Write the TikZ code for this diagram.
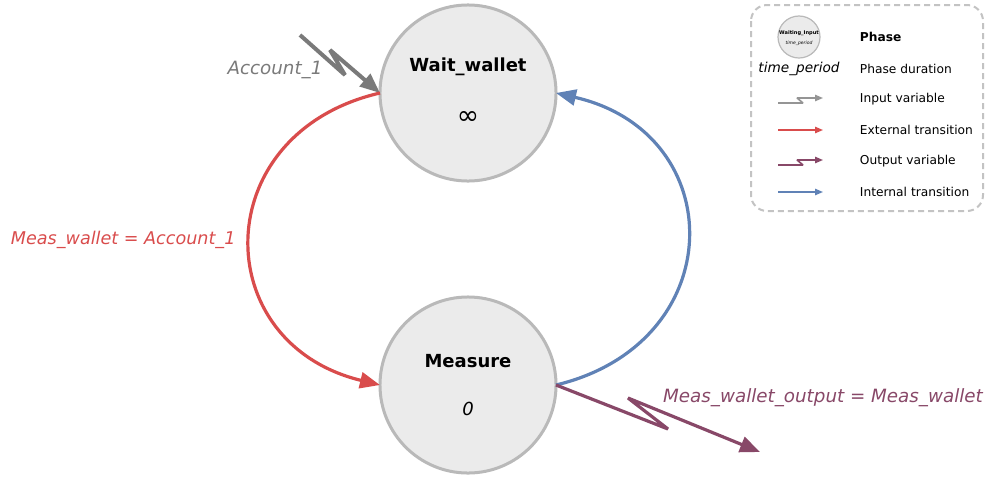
\documentclass[tikz,border=0pt]{standalone}
\usepackage{fontspec}
\setmainfont{DejaVu Sans}
\usetikzlibrary{arrows.meta,positioning}

\definecolor{phasefill}{RGB}{235,235,235}
\definecolor{phaseline}{RGB}{185,185,185}
\definecolor{inputgray}{RGB}{122,122,122}
\definecolor{extred}{RGB}{217,76,76}
\definecolor{intblue}{RGB}{96,130,182}
\definecolor{outpurple}{RGB}{136,72,104}
\definecolor{legendline}{RGB}{195,195,195}

\begin{document}
\begin{tikzpicture}[x=0.025cm,y=-0.025cm,
  phase/.style={circle,draw=phaseline,fill=phasefill,line width=0.075cm,
                minimum size=4.4cm,inner sep=0pt,outer sep=0pt},
  phasename/.style={font=\fontsize{12.8}{15}\selectfont\bfseries},
  duration/.style={font=\fontsize{12.8}{15}\selectfont},
  varlabel/.style={font=\fontsize{13}{15}\selectfont\itshape},
  conn/.style={line width=0.08cm,line join=bevel,
               -{Triangle[length=0.5cm,width=0.4cm]}},
  legarrow/.style={line width=0.04cm,line join=bevel,
                   -{Triangle[length=0.2cm,width=0.16cm]}},
  legtext/.style={font=\fontsize{8.7}{10}\selectfont,anchor=west},
]
\useasboundingbox (0,0) rectangle (986,481);

% === Phases ===
\node[phase] (wait) at (468,93) {};
\node[phasename] (waitname) at (468,67) {Wait\_wallet};
\node[duration,font=\fontsize{19}{20}\selectfont] (waittime) at (468,118) {∞};

\node[phase] (meas) at (468,385) {};
\node[phasename] (measname) at (468,361) {Measure};
\node[duration,font=\fontsize{12.8}{15}\selectfont\itshape] (meastime) at (468,409) {0};

% === Input variable ===
\coordinate (inA) at (300,35);
\coordinate (inB) at (345,75);
\coordinate (inC) at (330,50);
\draw[conn,color=inputgray,line width=0.1cm] (inA) -- (inB) -- (inC) -- (wait.west);
\node[varlabel,text=inputgray] (inlabel) at (275,70) {Account\_1};

% === External transition ===
\draw[conn,color=extred] (wait.west)
  .. controls (207,133) and (207,343) .. (meas.west);
\node[varlabel,font=\fontsize{12.5}{15}\selectfont\itshape,text=extred,anchor=west]
  (extlabel) at (6,240) {Meas\_wallet = Account\_1};

% === Internal transition ===
\draw[conn,color=intblue] (meas.east)
  .. controls (731,343) and (731,133) .. (wait.east);

% === Output variable ===
\coordinate (outB) at (668,429);
\coordinate (outC) at (628,398);
\coordinate (outD) at (760,452);
\draw[conn,color=outpurple] (meas.east) -- (outB) -- (outC) -- (outD);
\node[varlabel,text=outpurple] (outlabel) at (823,398) {Meas\_wallet\_output = Meas\_wallet};

% === Legend ===
\draw[legendline,line width=0.05cm,rounded corners=0.4cm,
      dash pattern=on 0.15cm off 0.1cm] (751,5) rectangle (983,211);

\node[circle,draw=phaseline,fill=phasefill,line width=0.03cm,minimum size=1.05cm,
      inner sep=0pt] (legphase) at (799,37) {};
\node[font=\fontsize{3.6}{4}\selectfont\bfseries] (legname) at (799,33) {Waiting\_Input};
\node[font=\fontsize{3.2}{4}\selectfont\itshape] (legtime) at (799,43) {time\_period};
\node[font=\fontsize{9.7}{11}\selectfont\itshape] (legdur) at (799,69) {time\_period};

\node[legtext,font=\fontsize{8.7}{10}\selectfont\bfseries] (tphase) at (855,37) {Phase};
\node[legtext] (tdur) at (855,69) {Phase duration};
\node[legtext] (tin) at (855,99) {Input variable};
\node[legtext] (text) at (855,130) {External transition};
\node[legtext] (tout) at (855,161) {Output variable};
\node[legtext] (tint) at (855,192) {Internal transition};

\coordinate (lin1) at (778,103);
\coordinate (lin2) at (803,103);
\coordinate (lin3) at (797,98);
\coordinate (lin4) at (823,98);
\draw[legarrow,color=inputgray!80] (lin1) -- (lin2) -- (lin3) -- (lin4);

\coordinate (lext1) at (778,130);
\coordinate (lext2) at (823,130);
\draw[legarrow,color=extred] (lext1) -- (lext2);

\coordinate (lout1) at (778,165);
\coordinate (lout2) at (803,165);
\coordinate (lout3) at (797,160);
\coordinate (lout4) at (823,160);
\draw[legarrow,color=outpurple] (lout1) -- (lout2) -- (lout3) -- (lout4);

\coordinate (lint1) at (778,192);
\coordinate (lint2) at (823,192);
\draw[legarrow,color=intblue] (lint1) -- (lint2);

\end{tikzpicture}
\end{document}
